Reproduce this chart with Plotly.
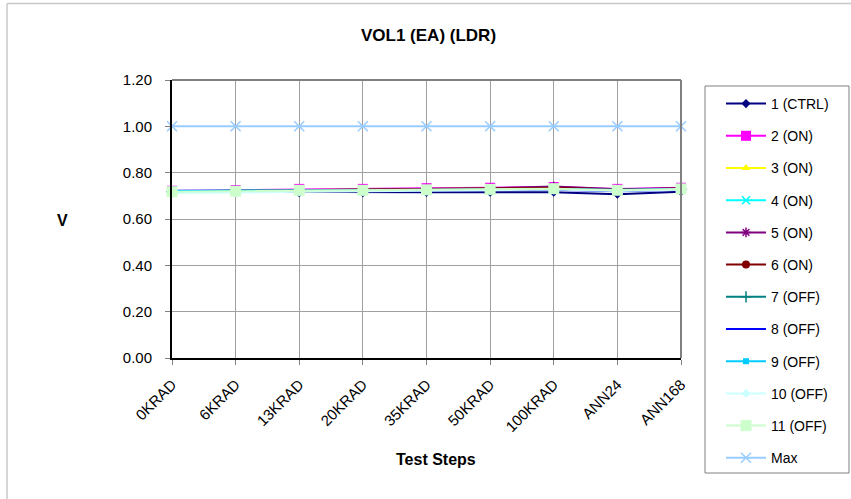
import plotly.graph_objects as go

categories = ["0KRAD", "6KRAD", "13KRAD", "20KRAD", "35KRAD", "50KRAD", "100KRAD", "ANN24", "ANN168"]

s1_ctrl = [0.719, 0.718, 0.714, 0.714, 0.715, 0.716, 0.716, 0.707, 0.718]
s2_on = [0.722, 0.725, 0.730, 0.730, 0.733, 0.735, 0.738, 0.730, 0.735]
s3_on = [0.720, 0.722, 0.726, 0.726, 0.728, 0.730, 0.734, 0.726, 0.731]
s4_on = [0.720, 0.722, 0.724, 0.725, 0.727, 0.729, 0.732, 0.725, 0.730]
s5_on = [0.720, 0.723, 0.727, 0.728, 0.731, 0.733, 0.740, 0.728, 0.733]
s6_on = [0.719, 0.722, 0.725, 0.726, 0.729, 0.731, 0.735, 0.727, 0.732]
s7_off = [0.718, 0.719, 0.721, 0.722, 0.724, 0.726, 0.729, 0.723, 0.728]
s8_off = [0.718, 0.719, 0.720, 0.720, 0.722, 0.724, 0.726, 0.720, 0.726]
s9_off = [0.722, 0.722, 0.724, 0.724, 0.726, 0.727, 0.729, 0.726, 0.729]
s10_off = [0.712, 0.714, 0.718, 0.719, 0.722, 0.724, 0.727, 0.721, 0.726]
s11_off = [0.718, 0.720, 0.724, 0.724, 0.726, 0.728, 0.731, 0.724, 0.730]
s_max = [1.0, 1.0, 1.0, 1.0, 1.0, 1.0, 1.0, 1.0, 1.0]

names = ["1 (CTRL)", "2 (ON)", "3 (ON)", "4 (ON)", "5 (ON)", "6 (ON)",
         "7 (OFF)", "8 (OFF)", "9 (OFF)", "10 (OFF)", "11 (OFF)", "Max"]
series = [s1_ctrl, s2_on, s3_on, s4_on, s5_on, s6_on,
          s7_off, s8_off, s9_off, s10_off, s11_off, s_max]
colors = ["#000080", "#FF00FF", "#FFFF00", "#00FFFF", "#800080", "#800000",
          "#008080", "#0000FF", "#00CCFF", "#CCFFFF", "#CCFFCC", "#99CCFF"]
symbols = ["diamond", "square", "triangle-up", "x-thin", "asterisk", "circle",
           "cross-thin", "line-ew", "square", "diamond", "square", "x-thin"]
sizes = [7, 10, 8, 8, 8, 8, 8, 6, 6, 7, 11, 10]

# figure / plot geometry in pixels
W, H = 851, 499
L, R = 172, 681          # axis left/right
AT, AB = 80, 358         # axis top/bottom
PT, PB = 40, 459         # plot-area (margin box) top/bottom, taller so legend fits
pw, ph = R - L, PB - PT

def px(x):
    return (x - L) / pw

def py(y):
    return (PB - y) / ph

fig = go.Figure()
for nm, vals, col, sym, sz in zip(names, series, colors, symbols, sizes):
    mk = dict(symbol=sym, size=sz, color=col)
    if sym.endswith("-thin") or sym in ("asterisk", "line-ew"):
        mk["line"] = dict(color=col, width=1.5)
    fig.add_trace(go.Scatter(
        x=categories, y=vals, mode="lines+markers", name=nm,
        line=dict(color=col, width=2), marker=mk, legendgroup=nm,
        cliponaxis=False,
    ))

font_family = "Liberation Sans, Arial, sans-serif"

fig.update_layout(
    width=W, height=H,
    margin=dict(l=L, r=W - R, t=PT, b=H - PB, autoexpand=False),
    paper_bgcolor="white", plot_bgcolor="white",
    font=dict(family=font_family, size=14, color="black"),
    showlegend=True,
    legend=dict(
        x=px(721), y=py(88), xanchor="left", yanchor="top",
        font=dict(size=14, family=font_family),
        bgcolor="rgba(0,0,0,0)", borderwidth=0,
        tracegroupgap=11, itemwidth=40,
    ),
    xaxis=dict(
        type="category", range=[0, 8], showgrid=True, gridcolor="#A0A0A0", gridwidth=1,
        tickangle=-45, ticks="outside", ticklen=5, tickcolor="#808080",
        showline=True, linecolor="black", linewidth=2, zeroline=False,
        tickfont=dict(size=15), automargin=False, anchor="y",
        ticklabelstandoff=5,
    ),
    yaxis=dict(
        range=[0, 1.2], dtick=0.2, tickformat=".2f", showgrid=True, gridcolor="#A0A0A0",
        gridwidth=1, ticks="outside", ticklen=5, tickcolor="#808080",
        showline=True, linecolor="black", linewidth=2, zeroline=False,
        tickfont=dict(size=15), automargin=False,
        domain=[py(AB), py(AT)], ticklabelstandoff=10,
    ),
    shapes=[
        # plot area top/right border
        dict(type="line", xref="x domain", yref="y domain", x0=0, x1=1, y0=1, y1=1,
             line=dict(color="#808080", width=2)),
        dict(type="line", xref="x domain", yref="y domain", x0=1, x1=1, y0=0, y1=1,
             line=dict(color="#808080", width=2)),
        # legend box
        dict(type="rect", xref="paper", yref="paper", x0=px(705), x1=px(849),
             y0=py(473), y1=py(86), line=dict(color="#808080", width=1), layer="below"),
        # outer chart border (left/top)
        dict(type="line", xref="paper", yref="paper", x0=px(7), x1=px(7),
             y0=py(3.5), y1=py(499), line=dict(color="#C8C8C8", width=1.5)),
        dict(type="line", xref="paper", yref="paper", x0=px(7), x1=px(851),
             y0=py(3.5), y1=py(3.5), line=dict(color="#C8C8C8", width=1.5)),
    ],
    annotations=[
        dict(text="<b>VOL1 (EA) (LDR)</b>", xref="paper", yref="paper",
             x=px(428), y=py(35), xanchor="center", yanchor="middle",
             showarrow=False, font=dict(size=17)),
        dict(text="<b>Test Steps</b>", xref="paper", yref="paper",
             x=px(436), y=py(459), xanchor="center", yanchor="middle",
             showarrow=False, font=dict(size=16)),
        dict(text="<b>V</b>", xref="paper", yref="paper",
             x=px(62), y=py(220), xanchor="center", yanchor="middle",
             showarrow=False, font=dict(size=16)),
    ],
)

fig.write_html("out.html", config={"displayModeBar": False})

# remove the default body margin so the figure sits at the page origin
with open("out.html", "r", encoding="utf-8") as f:
    html = f.read()
html = html.replace("<body>", '<body style="margin:0;padding:0;overflow:hidden">', 1)
with open("out.html", "w", encoding="utf-8") as f:
    f.write(html)
